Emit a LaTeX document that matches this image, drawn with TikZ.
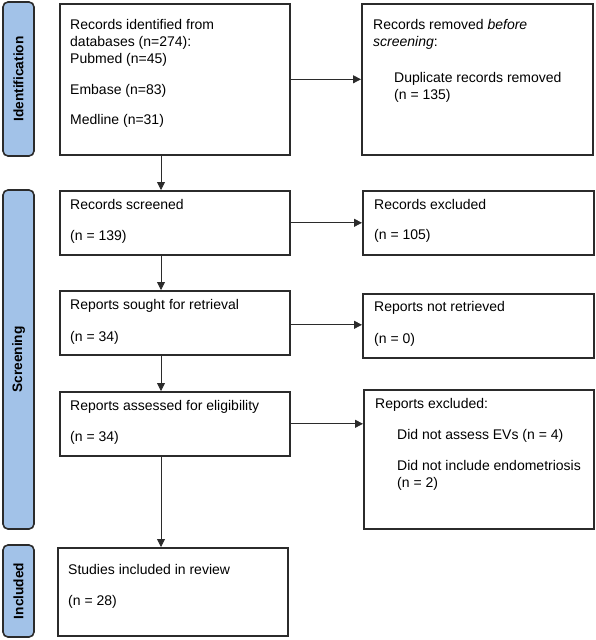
\documentclass[tikz,border=0pt]{standalone}
\usepackage{fontspec}
\setmainfont{Liberation Sans}
\usetikzlibrary{arrows.meta,calc}
\definecolor{phaseblue}{HTML}{A2C2E8}
\definecolor{edgegray}{HTML}{2B2B2B}
\tikzset{
  box/.style={draw=edgegray, line width=1.6pt, fill=white, inner sep=0pt, anchor=north west},
  phase/.style={draw=edgegray, fill=phaseblue, line width=1.6pt, rounded corners=5pt, rotate=90, inner sep=0pt, minimum height=31pt, font=\fontsize{13.7}{16}\selectfont\bfseries},
  txt/.style={anchor=base west, inner sep=0pt, font=\fontsize{14}{17}\selectfont},
  arr/.style={draw=edgegray, line width=0.8pt, -{Triangle[length=8pt,width=8pt]}},
}
\begin{document}
\begin{tikzpicture}[x=1pt,y=-1pt]
\useasboundingbox (0,0) rectangle (595,640);
% phase labels
\node[phase, minimum width=154pt] (P1) at (18.5,79) {Identification};
\node[phase, minimum width=339pt] (P2) at (18.5,359.5) {Screening};
\node[phase, minimum width=92pt] (P3) at (18.5,591) {Included};
% boxes
\node[box, minimum width=230pt, minimum height=151pt] (A) at (59,3) {};
\node[box, minimum width=231pt, minimum height=151pt] (B) at (361,3) {};
\node[box, minimum width=230pt, minimum height=64pt] (C) at (59,190) {};
\node[box, minimum width=231pt, minimum height=64pt] (D) at (362,190) {};
\node[box, minimum width=230pt, minimum height=64pt] (E) at (59,290) {};
\node[box, minimum width=231pt, minimum height=64pt] (F) at (362,293) {};
\node[box, minimum width=230pt, minimum height=64pt] (G) at (59,391) {};
\node[box, minimum width=230pt, minimum height=139pt] (H) at (363,389) {};
\node[box, minimum width=230pt, minimum height=88pt] (I) at (57,547) {};
% texts
\node[txt] (A1) at (70,29) {Records identified from};
\node[txt] (A2) at (70,46) {databases (n=274):};
\node[txt] (A3) at (70,63) {Pubmed (n=45)};
\node[txt] (A4) at (70,94) {Embase (n=83)};
\node[txt] (A5) at (70,124) {Medline (n=31)};
\node[txt] (B1) at (373,29) {Records removed \textit{before}};
\node[txt] (B2) at (373,46) {\textit{screening}:};
\node[txt] (B3) at (394,82) {Duplicate records removed};
\node[txt] (B4) at (394,99) {(n = 135)};
\node[txt] (C1) at (70,209) {Records screened};
\node[txt] (C2) at (70,240) {(n = 139)};
\node[txt] (D1) at (374,209) {Records excluded};
\node[txt] (D2) at (374,239) {(n = 105)};
\node[txt] (E1) at (70,309) {Reports sought for retrieval};
\node[txt] (E2) at (70,341) {(n = 34)};
\node[txt] (F1) at (374,311) {Reports not retrieved};
\node[txt] (F2) at (374,343) {(n = 0)};
\node[txt] (G1) at (70,410) {Reports assessed for eligibility};
\node[txt] (G2) at (70,441) {(n = 34)};
\node[txt] (H1) at (375,408) {Reports excluded:};
\node[txt] (H2) at (397,439) {Did not assess EVs (n = 4)};
\node[txt] (H3) at (397,470) {Did not include endometriosis};
\node[txt] (H4) at (397,487) {(n = 2)};
\node[txt] (I1) at (68,574) {Studies included in review};
\node[txt] (I2) at (68,605) {(n = 28)};
% connectors
\coordinate (vx) at (161,0);
\draw[arr] (A.east) -- (A.east -| B.west);
\draw[arr] (C.east) -- (C.east -| D.west);
\draw[arr] ($(E.east)+(0,2)$) -- ($(E.east -| F.west)+(0,2)$);
\draw[arr] (G.east) -- (G.east -| H.west);
\draw[arr] (vx |- A.south) -- (vx |- C.north);
\draw[arr] (vx |- C.south) -- (vx |- E.north);
\draw[arr] (vx |- E.south) -- (vx |- G.north);
\draw[arr] (vx |- G.south) -- (vx |- I.north);
\end{tikzpicture}
\end{document}
